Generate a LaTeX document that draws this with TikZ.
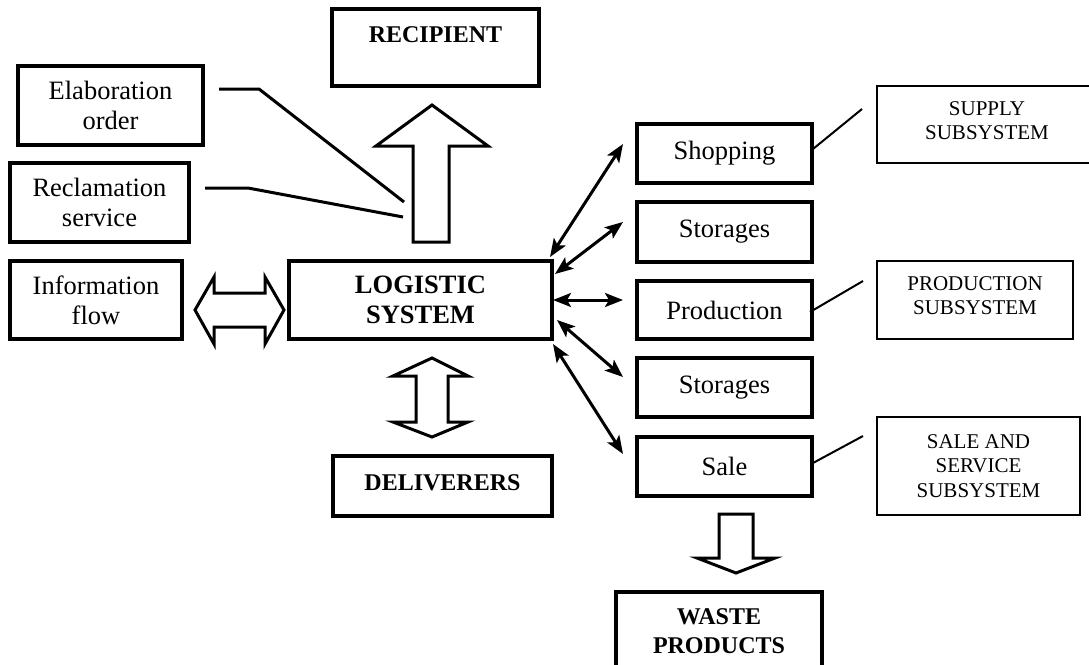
\documentclass[tikz,border=0pt]{standalone}
\usepackage{fontspec}
\setmainfont{Liberation Serif}
\usetikzlibrary{arrows.meta}
\tikzset{
  thickbox/.style={draw=black, line width=3.2pt, inner sep=0pt, align=center, font=\fontsize{26.5}{30}\selectfont},
  thinbox/.style={draw=black, line width=2pt, inner sep=0pt, align=center, font=\fontsize{21}{24.5}\selectfont},
  capb/.style={font=\fontsize{24}{29}\selectfont\bfseries},
  linkline/.style={line width=3pt, line join=miter},
  thinlink/.style={line width=2pt},
  dbl/.style={line width=3pt, {Stealth[length=18pt,width=14pt,inset=4pt]}-{Stealth[length=18pt,width=14pt,inset=4pt]}},
  hollow/.style={draw=black, line width=3pt, fill=white, line join=miter},
}
\begin{document}
\begin{tikzpicture}[x=1pt,y=-1pt]
\useasboundingbox (0,0) rectangle (1089,664);

% left column
\node[thickbox, minimum width=207, minimum height=77] (rec) at (435.5,47.5) {};
\node[capb] (rect) at (435.5,35) {RECIPIENT};
\node[thickbox, minimum width=185, minimum height=79] (elab) at (110.5,105.5) {Elaboration\\order};
\node[thickbox, minimum width=179, minimum height=79] (recl) at (99.5,202.5) {Reclamation\\service};
\node[thickbox, minimum width=172, minimum height=78] (info) at (96,300) {Information\\flow};
\node[thickbox, minimum width=263, minimum height=78] (log) at (420.5,300) {\bfseries LOGISTIC\\\bfseries SYSTEM};
\node[thickbox, minimum width=219, minimum height=60] (deliv) at (442.5,486) {};
\node[capb] (delivt) at (442.5,483) {DELIVERERS};

% middle column
\node[thickbox, minimum width=175, minimum height=59] (shop) at (724.5,153.5) {Shopping};
\node[thickbox, minimum width=175, minimum height=60] (stor1) at (724.5,232) {Storages};
\node[thickbox, minimum width=175, minimum height=58] (prod) at (724.5,310) {Production};
\node[thickbox, minimum width=175, minimum height=59] (stor2) at (724.5,387.5) {Storages};
\node[thickbox, minimum width=175, minimum height=59] (sale) at (724.5,466.5) {Sale};
\node[thickbox, minimum width=206, minimum height=80] (waste) at (719,632) {};
\node[capb, align=center] (wastet) at (719,631.5) {WASTE\\PRODUCTS};

% right column
\node[thinbox, minimum width=220, minimum height=77] (supply) at (987,124.5) {};
\node[thinbox, draw=none] (supplyt) at (987,120.5) {SUPPLY\\SUBSYSTEM};
\node[thinbox, minimum width=196, minimum height=78] (prodsub) at (975,300) {};
\node[thinbox, draw=none] (prodsubt) at (975,295.5) {PRODUCTION\\SUBSYSTEM};
\node[thinbox, minimum width=203, minimum height=98] (salesub) at (978.5,466) {SALE AND\\SERVICE\\SUBSYSTEM};

% free ends of the connectors
\coordinate (e1) at (219,89);
\coordinate (e2) at (259,89);
\coordinate (e3) at (404,202);
\coordinate (r1) at (205,188);
\coordinate (r2) at (248,188);
\coordinate (r3) at (403,217);
\coordinate (s1) at (813,149);
\coordinate (s2) at (862,109);
\coordinate (p1) at (810,312);
\coordinate (p2) at (863,281);
\coordinate (q1) at (813,463);
\coordinate (q2) at (863,436);

\draw[linkline] (e1) -- (e2) -- (e3);
\draw[linkline] (r1) -- (r2) -- (r3);
\draw[thinlink] (s1) -- (s2);
\draw[thinlink] (p1) -- (p2);
\draw[thinlink] (q1) -- (q2);

% double-headed arrows from the logistic system
\coordinate (a1) at (550,257); \coordinate (b1) at (623,144);
\coordinate (a2) at (555,274); \coordinate (b2) at (623,222);
\coordinate (a3) at (553,300); \coordinate (b3) at (623,300);
\coordinate (a4) at (557,320); \coordinate (b4) at (623,377);
\coordinate (a5) at (553,344); \coordinate (b5) at (623,454);
\draw[dbl] (a1) -- (b1);
\draw[dbl] (a2) -- (b2);
\draw[dbl] (a3) -- (b3);
\draw[dbl] (a4) -- (b4);
\draw[dbl] (a5) -- (b5);

% hollow block arrows
\draw[hollow] (413,242) -- (413,146) -- (376,146) -- (432,105) -- (488,146) -- (449,146) -- (449,242) -- cycle;
\draw[hollow] (195,310) -- (214,277) -- (214,293) -- (265,293) -- (265,277) -- (284,310) -- (265,344) -- (265,327) -- (214,327) -- (214,344) -- cycle;
\draw[hollow] (432,358) -- (468,376) -- (448,376) -- (448,422) -- (468,422) -- (432,437) -- (393,422) -- (416,422) -- (416,376) -- (393,376) -- cycle;
\draw[hollow] (719,514) -- (753,514) -- (753,558) -- (775,558) -- (736,573) -- (697,558) -- (719,558) -- cycle;
\end{tikzpicture}
\end{document}
